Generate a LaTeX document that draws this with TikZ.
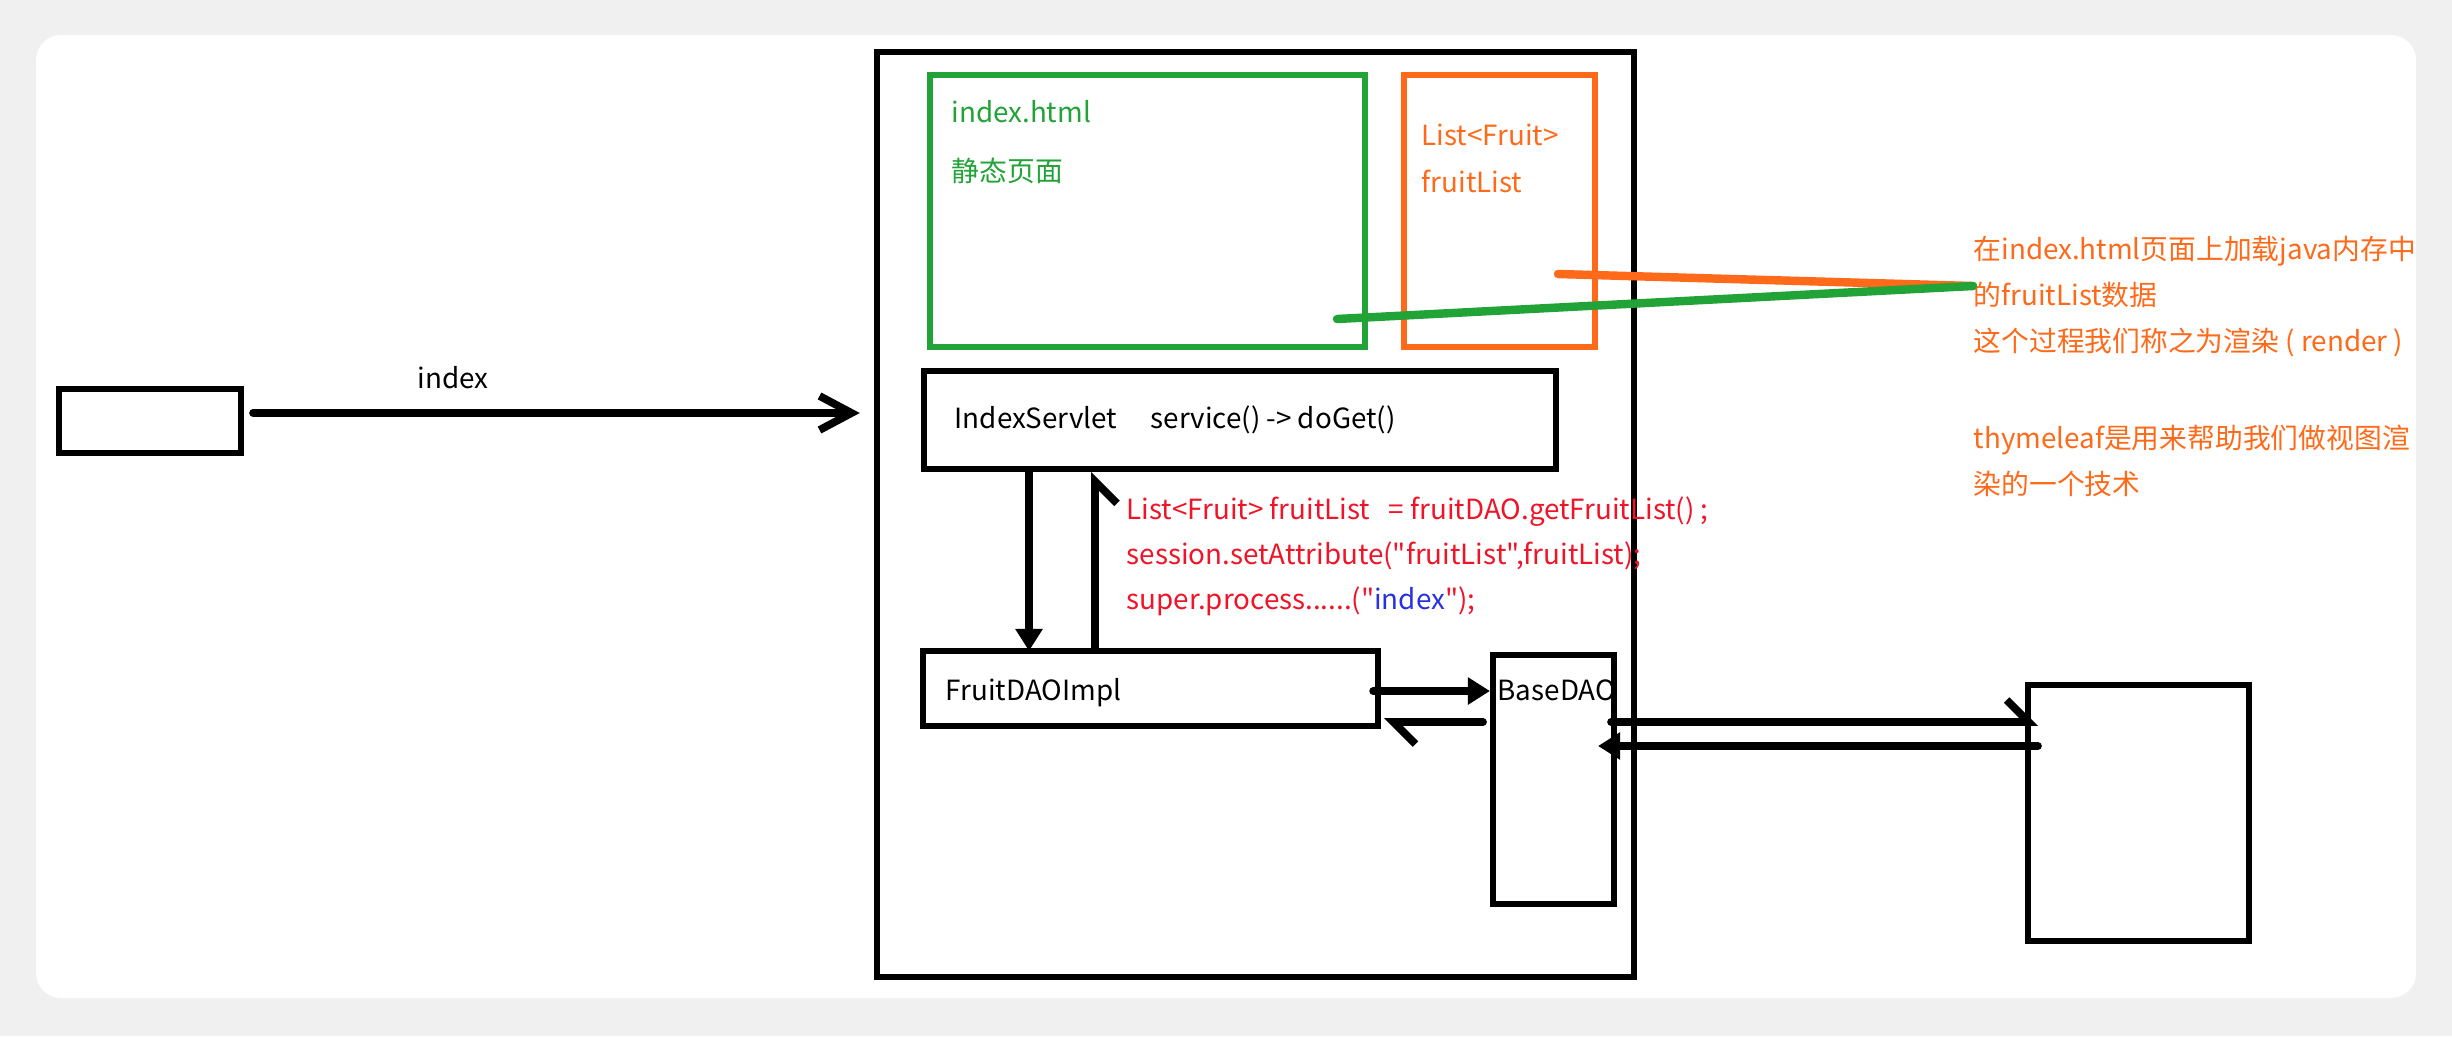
\documentclass[tikz,border=0pt]{standalone}
\usepackage{fontspec}
\setmainfont{Noto Sans CJK SC}
\newfontfamily\cnfont{Noto Sans CJK SC}
\usetikzlibrary{arrows.meta}

\definecolor{pagegreen}{RGB}{34,163,56}
\definecolor{listorange}{RGB}{255,106,26}
\definecolor{codered}{RGB}{240,20,40}
\definecolor{codeblue}{RGB}{40,50,220}

\begin{document}
\begin{tikzpicture}[x=0.01cm, y=-0.01cm,
        box/.style={draw, line width=1.7pt, inner sep=0pt},
        txt/.style={anchor=base west, inner sep=0pt, font=\cnfont\fontsize{7.9}{13}\selectfont},
        flow/.style={line width=2.2pt, line cap=round},
        blob/.style={-{Triangle[length=2.2mm, width=2.6mm]}},
        halfbarb/.style={-{Straight Barb[#1, length=2.2mm, width=4.4mm]}}]

        % card
        \fill [gray!12] (0, 0) rectangle (2452, 1036);
        \fill [white, rounded corners=0.25cm] (36, 35) rectangle (2416, 998);

        % boxes
        \node [box, minimum width=1.82cm, minimum height=0.64cm] (client) at (150, 421) {};
        \node [box, minimum width=7.57cm, minimum height=9.25cm] (server) at (1255.5, 514.5) {};
        \node [box, draw=pagegreen, minimum width=4.35cm, minimum height=2.72cm] (page) at (1147.5, 211) {};
        \node [box, draw=listorange, minimum width=1.91cm, minimum height=2.72cm] (list) at (1499.5, 211) {};
        \node [box, minimum width=6.32cm, minimum height=0.98cm] (servlet) at (1240, 420) {};
        \node [box, minimum width=4.55cm, minimum height=0.75cm] (impl) at (1150.5, 688.5) {};
        \node [txt] (basetext) at (1497, 700) {BaseDAO};
        \node [box, minimum width=1.21cm, minimum height=2.49cm] (base) at (1553.5, 779.5) {};
        \node [box, minimum width=2.21cm, minimum height=2.56cm] (db) at (2138.5, 813) {};

        % texts
        \node [txt, text=pagegreen] (pagename) at (951, 122) {index.html};
        \node [txt, text=pagegreen] (pagekind) at (951, 181) {静态页面};
        \node [txt, text=listorange] (listtype) at (1421, 145) {List<Fruit>};
        \node [txt, text=listorange] (listname) at (1421, 192) {fruitList};
        \node [txt] (servlettext) at (954, 428) {IndexServlet\hspace{1.2em}service() -> doGet()};
        \node [txt] (impltext) at (945, 700) {FruitDAOImpl};

        \node [txt, text=codered] (line1) at (1126, 519) {List<Fruit> fruitList\ \ \ = fruitDAO.getFruitList() ;};
        \node [txt, text=codered] (line2) at (1126, 564) {session.setAttribute("fruitList",fruitList);};
        \node [txt, text=codered] (line3) at (1126, 609) {super.process......("\textcolor{codeblue}{index}");};

        \node [txt, text=listorange] (note1) at (1973, 259) {在index.html页面上加载java内存中};
        \node [txt, text=listorange] (note2) at (1973, 305) {的fruitList数据};
        \node [txt, text=listorange] (note3) at (1973, 351) {这个过程我们称之为渲染 ( render )};
        \node [txt, text=listorange] (tool1) at (1973, 448) {thymeleaf是用来帮助我们做视图渲};
        \node [txt, text=listorange] (tool2) at (1973, 494) {染的一个技术};

        % request
        \draw [flow, -{Straight Barb[length=3.2mm, width=3.4mm]}]
            ([xshift=0.09cm, yshift=0.08cm]client.east)
            -- node [pos=0.33, above=0.2cm, inner sep=0pt, font=\cnfont\fontsize{7.9}{13}\selectfont] (req) {index}
            ([xshift=-0.14cm, yshift=0.08cm]client.east -| server.west);

        % servlet <-> dao
        \coordinate (downx) at (1029, 0);
        \coordinate (upx) at (1095, 0);
        \draw [flow, blob] (servlet.south -| downx) -- ([yshift=-0.03cm]impl.north -| downx);
        \draw [flow, halfbarb=right] (impl.north -| upx) -- (servlet.south -| upx);

        % dao <-> base <-> db
        \coordinate (r1) at (0, 691);
        \coordinate (r2) at (0, 722);
        \coordinate (r3) at (0, 746);
        \draw [flow, blob] ([xshift=-0.08cm]impl.east |- r1) -- (base.west |- r1);
        \draw [flow, halfbarb=left] ([xshift=-0.07cm]base.west |- r2) -- ([xshift=0.03cm]impl.east |- r2);
        \draw [flow, halfbarb=left] ([xshift=-0.06cm]base.east |- r2) -- ([xshift=0.13cm]db.west |- r2);
        \draw [flow, blob] ([xshift=0.13cm]db.west |- r3) -- ([xshift=-0.19cm]base.east |- r3);

        % render strokes
        \coordinate (listend) at (1558, 274);
        \coordinate (pageend) at (1337, 319);
        \coordinate (noteend) at (1973, 286);
        \draw [line width=2.4pt, line cap=round, listorange] (listend) -- (noteend);
        \draw [line width=2.4pt, line cap=round, pagegreen] (pageend) -- (noteend);
\end{tikzpicture}
\end{document}
